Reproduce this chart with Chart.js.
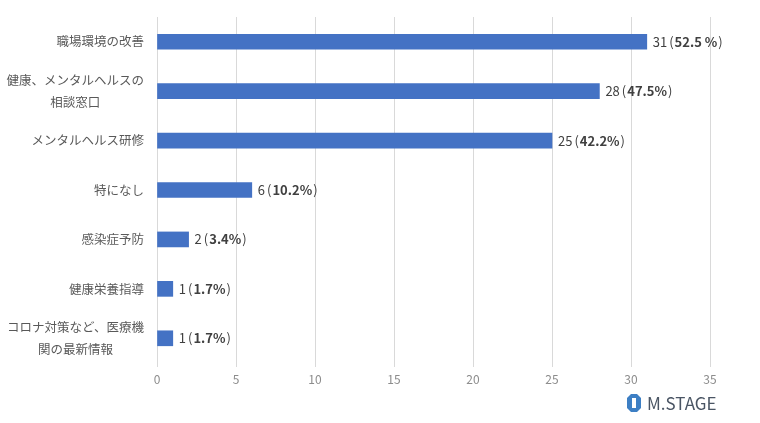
<!DOCTYPE html>
<html>
<head>
<meta charset="utf-8">
<script src="https://cdn.jsdelivr.net/npm/chart.js@4"></script>
<style>
  html, body { margin: 0; padding: 0; background: #fff; }
  #wrap { width: 760px; height: 423px; }
</style>
</head>
<body>
<div id="wrap"><canvas id="barChart" width="760" height="423"></canvas></div>
<script>
const categories = [
    '職場環境の改善',
    ['健康、メンタルヘルスの', '相談窓口'],
    'メンタルヘルス研修',
    '特になし',
    '感染症予防',
    '健康栄養指導',
    ['コロナ対策など、医療機', '関の最新情報']
];
const counts = [31, 28, 25, 6, 2, 1, 1];
const percents = ['52.5 %', '47.5%', '42.2%', '10.2%', '3.4%', '1.7%', '1.7%'];
const xTicks = [0, 5, 10, 15, 20, 25, 30, 35];

const FONT = '"Noto Sans CJK JP", "Noto Sans", sans-serif';

// category labels: block right-aligned, lines centered inside the block
const categoryLabels = {
    id: 'categoryLabels',
    afterDraw(chart) {
        const ctx = chart.ctx;
        const yScale = chart.scales.y;
        ctx.save();
        ctx.fillStyle = '#595959';
        ctx.font = '12.5px ' + FONT;
        ctx.textAlign = 'center';
        ctx.textBaseline = 'middle';
        categories.forEach(function (label, i) {
            const lines = Array.isArray(label) ? label : [label];
            const y = yScale.getPixelForValue(i);
            const w = Math.max(...lines.map(l => ctx.measureText(l).width));
            const cx = 144 - w / 2;
            const lh = 22;
            lines.forEach(function (l, j) {
                ctx.fillText(l, cx, y + (j - (lines.length - 1) / 2) * lh);
            });
        });
        ctx.restore();
    }
};

// value labels: count regular, percentage bold
const valueLabels = {
    id: 'valueLabels',
    afterDatasetsDraw(chart) {
        const ctx = chart.ctx;
        const meta = chart.getDatasetMeta(0);
        ctx.save();
        ctx.fillStyle = '#404040';
        ctx.textBaseline = 'middle';
        meta.data.forEach(function (bar, i) {
            let x = bar.x + 6;
            const y = bar.y;
            const parts = [
                [String(counts[i]), 'normal', 2],
                ['(', 'normal', 1],
                [percents[i], 'bold', 1],
                [')', 'normal', 0]
            ];
            parts.forEach(function (p) {
                ctx.font = p[1] + ' 13px ' + FONT;
                ctx.fillText(p[0], x, y);
                x += ctx.measureText(p[0]).width + p[2];
            });
        });
        ctx.restore();
    }
};

// small logo bottom right
const logo = {
    id: 'logo',
    afterDraw(chart) {
        const ctx = chart.ctx;
        ctx.save();
        const cx = 634, cy = 403;
        ctx.fillStyle = '#3d7fc4';
        ctx.beginPath();
        ctx.moveTo(cx - 3, cy - 9);
        ctx.lineTo(cx + 3, cy - 9);
        ctx.lineTo(cx + 7, cy - 5);
        ctx.lineTo(cx + 7, cy + 5);
        ctx.lineTo(cx + 3, cy + 9);
        ctx.lineTo(cx - 3, cy + 9);
        ctx.lineTo(cx - 7, cy + 5);
        ctx.lineTo(cx - 7, cy - 5);
        ctx.closePath();
        ctx.fill();
        ctx.fillStyle = '#fff';
        ctx.fillRect(cx - 2, cy - 5, 4, 10);
        ctx.fillStyle = '#4a5564';
        ctx.font = 'normal 17px ' + FONT;
        ctx.textBaseline = 'middle';
        ctx.fillText('M.STAGE', 647, cy + 1);
        ctx.restore();
    }
};

Chart.register(categoryLabels, valueLabels, logo);

new Chart(document.getElementById('barChart').getContext('2d'), {
    type: 'bar',
    data: {
        labels: categories,
        datasets: [{
            data: counts,
            backgroundColor: '#4472C4',
            barThickness: 15
        }]
    },
    options: {
        indexAxis: 'y',
        responsive: false,
        animation: false,
        layout: { padding: { top: 17, right: 50, bottom: 0, left: 0 } },
        plugins: {
            legend: { display: false },
            tooltip: { enabled: false }
        },
        scales: {
            x: {
                min: 0,
                max: 35,
                afterBuildTicks: function (scale) {
                    scale.ticks = xTicks.map(v => ({ value: v }));
                },
                afterFit: function (scale) { scale.height = 423 - 363; },
                border: { display: false },
                grid: { color: '#d9d9d9', lineWidth: 1, tickLength: 4 },
                ticks: {
                    color: '#8c8c8c',
                    padding: 5,
                    font: { family: FONT, size: 12 }
                }
            },
            y: {
                afterFit: function (scale) { scale.width = 157; },
                border: { display: false },
                grid: { display: false },
                ticks: { display: false }
            }
        }
    }
});
</script>
</body>
</html>
